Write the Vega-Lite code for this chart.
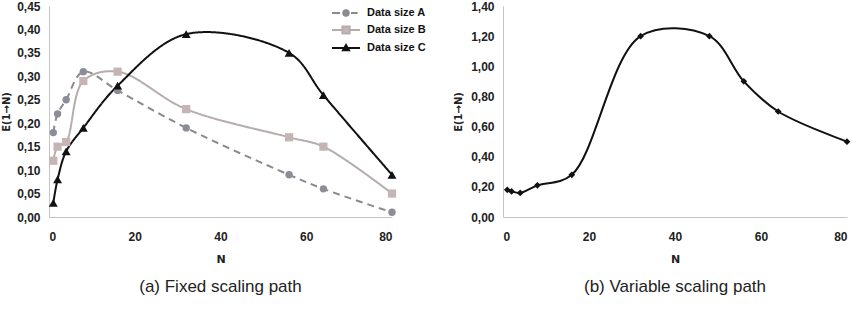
{
  "$schema": "https://vega.github.io/schema/vega-lite/v6.json",
  "padding": {"left": 1, "top": 0, "right": 4, "bottom": 0},
  "background": "white",
  "config": {
    "locale": {"number": {"decimal": ",", "thousands": ".", "grouping": [3], "currency": ["", " €"]}},
    "font": "Liberation Sans",
    "view": {"stroke": null},
    "axis": {
      "grid": false,
      "ticks": false,
      "domainColor": "#c4c4c4",
      "domainWidth": 1,
      "labelFont": "Liberation Sans",
      "labelFontSize": 12,
      "labelFontWeight": "bold",
      "labelColor": "#222222",
      "titleFont": "DejaVu Sans",
      "titleFontWeight": "bold",
      "titleColor": "#222222"
    },
    "title": {"font": "Liberation Sans", "fontSize": 17, "fontWeight": "normal", "color": "#222222"}
  },
  "datasets": {
    "fixed": [
      {"N": 1, "E": 0.18, "series": "Data size A"},
      {"N": 2, "E": 0.22, "series": "Data size A"},
      {"N": 4, "E": 0.25, "series": "Data size A"},
      {"N": 8, "E": 0.31, "series": "Data size A"},
      {"N": 16, "E": 0.27, "series": "Data size A"},
      {"N": 32, "E": 0.19, "series": "Data size A"},
      {"N": 56, "E": 0.09, "series": "Data size A"},
      {"N": 64, "E": 0.06, "series": "Data size A"},
      {"N": 80, "E": 0.01, "series": "Data size A"},
      {"N": 1, "E": 0.12, "series": "Data size B"},
      {"N": 2, "E": 0.15, "series": "Data size B"},
      {"N": 4, "E": 0.16, "series": "Data size B"},
      {"N": 8, "E": 0.29, "series": "Data size B"},
      {"N": 16, "E": 0.31, "series": "Data size B"},
      {"N": 32, "E": 0.23, "series": "Data size B"},
      {"N": 56, "E": 0.17, "series": "Data size B"},
      {"N": 64, "E": 0.15, "series": "Data size B"},
      {"N": 80, "E": 0.05, "series": "Data size B"},
      {"N": 1, "E": 0.03, "series": "Data size C"},
      {"N": 2, "E": 0.08, "series": "Data size C"},
      {"N": 4, "E": 0.14, "series": "Data size C"},
      {"N": 8, "E": 0.19, "series": "Data size C"},
      {"N": 16, "E": 0.28, "series": "Data size C"},
      {"N": 32, "E": 0.39, "series": "Data size C"},
      {"N": 56, "E": 0.35, "series": "Data size C"},
      {"N": 64, "E": 0.26, "series": "Data size C"},
      {"N": 80, "E": 0.09, "series": "Data size C"}
    ],
    "variable": [
      {"N": 1, "E": 0.18},
      {"N": 2, "E": 0.17},
      {"N": 4, "E": 0.16},
      {"N": 8, "E": 0.21},
      {"N": 16, "E": 0.28},
      {"N": 32, "E": 1.2},
      {"N": 48, "E": 1.2},
      {"N": 56, "E": 0.9},
      {"N": 64, "E": 0.7},
      {"N": 80, "E": 0.5}
    ]
  },
  "hconcat": [
    {
      "width": 343,
      "height": 211,
      "title": {"text": "(a) Fixed scaling path", "orient": "bottom", "offset": 15},
      "data": {"name": "fixed"},
      "encoding": {
        "x": {
          "field": "N", "type": "quantitative",
          "scale": {"domain": [0, 80], "nice": false},
          "axis": {"values": [0, 20, 40, 60, 80], "format": "d", "title": "N", "titleFontSize": 11, "labelPadding": 14, "titlePadding": 11}
        },
        "y": {
          "field": "E", "type": "quantitative",
          "scale": {"domain": [0, 0.45], "nice": false},
          "axis": {"values": [0, 0.05, 0.1, 0.15, 0.2, 0.25, 0.3, 0.35, 0.4, 0.45], "format": ".2f", "title": "E(1→N)", "titleFontSize": 10, "labelPadding": 9, "titlePadding": 5}
        }
      },
      "layer": [
        {
          "mark": {"type": "line", "interpolate": "catmull-rom", "strokeWidth": 2},
          "encoding": {
            "stroke": {
              "field": "series", "type": "nominal", "legend": null,
              "scale": {"domain": ["Data size A", "Data size B", "Data size C"], "range": ["#8a8a8e", "#b5adad", "#111111"]}
            },
            "strokeDash": {
              "field": "series", "type": "nominal", "legend": null,
              "scale": {"domain": ["Data size A", "Data size B", "Data size C"], "range": [[7, 5], [1, 0], [1, 0]]}
            }
          }
        },
        {
          "mark": {"type": "point", "filled": true, "opacity": 1},
          "encoding": {
            "color": {
              "field": "series", "type": "nominal", "legend": null,
              "scale": {"domain": ["Data size A", "Data size B", "Data size C"], "range": ["#8b8e98", "#c6b5b5", "#111111"]}
            },
            "shape": {
              "field": "series", "type": "nominal", "legend": null,
              "scale": {"domain": ["Data size A", "Data size B", "Data size C"], "range": ["circle", "square", "triangle-up"]}
            },
            "size": {
              "field": "series", "type": "nominal", "legend": null,
              "scale": {"domain": ["Data size A", "Data size B", "Data size C"], "range": [55, 80, 40]}
            }
          }
        },
        {
          "transform": [{"filter": "datum.N < 0"}],
          "mark": {"type": "point", "filled": true, "opacity": 1, "strokeWidth": 2},
          "encoding": {
            "shape": {
              "field": "series", "type": "nominal",
              "scale": {
                "domain": ["Data size A", "Data size B", "Data size C"],
                "range": [
                  "M-1.556,0H-0.667M0.556,0H1.3M0.3,0A0.3,0.3,0,1,1,-0.3,0A0.3,0.3,0,1,1,0.3,0Z",
                  "M-1.556,0H-0.4M0.4,0H1.556M-0.4,-0.4H0.4V0.4H-0.4Z",
                  "M-1.556,0H1.556M0,-0.33L0.33,0.25H-0.33Z"
                ]
              },
              "legend": {
                "title": null,
                "orient": "none",
                "legendX": 287,
                "legendY": -3,
                "padding": 0,
                "symbolSize": 324,
                "symbolStrokeWidth": 2,
                "symbolOpacity": 1,
                "labelFont": "Liberation Sans",
                "labelFontSize": 11,
                "labelFontWeight": "bold",
                "labelColor": "#111111",
                "labelOffset": 11,
                "rowPadding": 0
              }
            },
            "fill": {
              "field": "series", "type": "nominal",
              "scale": {"domain": ["Data size A", "Data size B", "Data size C"], "range": ["#8b8e98", "#c6b5b5", "#111111"]}
            },
            "stroke": {
              "field": "series", "type": "nominal",
              "scale": {"domain": ["Data size A", "Data size B", "Data size C"], "range": ["#8a8a8e", "#b5adad", "#111111"]}
            }
          }
        }
      ],
      "resolve": {"scale": {"shape": "independent", "stroke": "independent", "color": "independent", "fill": "independent", "size": "independent", "strokeDash": "independent"}}
    },
    {
      "width": 344,
      "height": 211,
      "title": {"text": "(b) Variable scaling path", "orient": "bottom", "offset": 15},
      "data": {"name": "variable"},
      "encoding": {
        "x": {
          "field": "N", "type": "quantitative",
          "scale": {"domain": [0, 80], "nice": false},
          "axis": {"values": [0, 20, 40, 60, 80], "format": "d", "title": "N", "titleFontSize": 11, "labelPadding": 14, "titlePadding": 11}
        },
        "y": {
          "field": "E", "type": "quantitative",
          "scale": {"domain": [0, 1.4], "nice": false},
          "axis": {"values": [0, 0.2, 0.4, 0.6, 0.8, 1.0, 1.2, 1.4], "format": ".2f", "title": "E(1→N)", "titleFontSize": 10, "labelPadding": 9, "titlePadding": 7}
        }
      },
      "layer": [
        {
          "mark": {"type": "line", "interpolate": "catmull-rom", "strokeWidth": 2, "color": "#111111"},
          "encoding": {}
        },
        {
          "mark": {"type": "point", "shape": "diamond", "filled": true, "opacity": 1, "size": 45, "color": "#111111"},
          "encoding": {}
        }
      ]
    }
  ],
  "spacing": 27
}
